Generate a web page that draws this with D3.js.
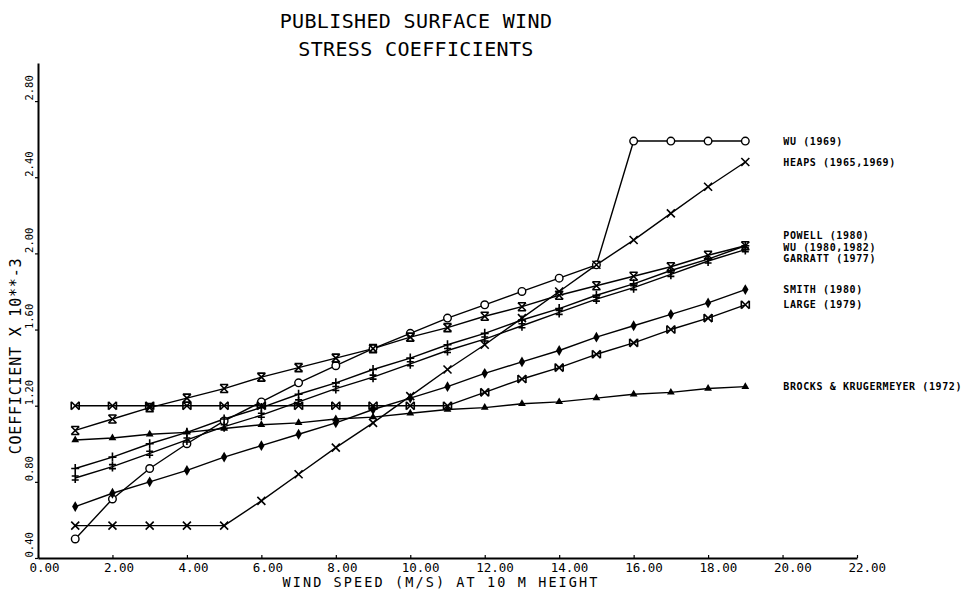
<!DOCTYPE html>
<html>
<head>
<meta charset="utf-8">
<script src="https://cdn.jsdelivr.net/npm/d3@7"></script>
<style>
  body { margin: 0; background: #fff; }
  text { font-family: "DejaVu Sans Mono", "Liberation Mono", monospace; fill: #000; }
</style>
</head>
<body>
<svg id="chart" width="969" height="591"></svg>
<script>
// Wind speed at 10 m height (m/s)
const windSpeed = [1, 2, 3, 4, 5, 6, 7, 8, 9, 10, 11, 12, 13, 14, 15, 16, 17, 18, 19];

// Drag coefficient (x 10^-3) for each published formulation
const wu1969   = [0.50, 0.71, 0.87, 1.00, 1.12, 1.22, 1.32, 1.41, 1.50, 1.58, 1.66, 1.73, 1.80, 1.87, 1.94, 2.59, 2.59, 2.59, 2.59];
const heaps    = [0.57, 0.57, 0.57, 0.57, 0.57, 0.70, 0.84, 0.98, 1.11, 1.25, 1.39, 1.52, 1.66, 1.80, 1.94, 2.07, 2.21, 2.35, 2.48];
const powell   = [1.07, 1.13, 1.19, 1.24, 1.29, 1.35, 1.40, 1.45, 1.50, 1.56, 1.61, 1.67, 1.72, 1.78, 1.83, 1.88, 1.93, 1.99, 2.04];
const wu1980   = [0.87, 0.93, 1.00, 1.06, 1.13, 1.19, 1.26, 1.32, 1.39, 1.45, 1.52, 1.58, 1.65, 1.71, 1.78, 1.84, 1.91, 1.97, 2.04];
const garratt  = [0.82, 0.88, 0.95, 1.02, 1.09, 1.15, 1.22, 1.29, 1.35, 1.42, 1.49, 1.55, 1.62, 1.69, 1.76, 1.82, 1.89, 1.96, 2.02];
const smith    = [0.67, 0.74, 0.80, 0.86, 0.93, 0.99, 1.05, 1.11, 1.18, 1.24, 1.30, 1.37, 1.43, 1.49, 1.56, 1.62, 1.68, 1.74, 1.81];
const large    = [1.20, 1.20, 1.20, 1.20, 1.20, 1.20, 1.20, 1.20, 1.20, 1.20, 1.20, 1.27, 1.34, 1.40, 1.47, 1.53, 1.60, 1.66, 1.73];
const brocks   = [1.02, 1.03, 1.05, 1.06, 1.08, 1.10, 1.11, 1.13, 1.14, 1.16, 1.18, 1.19, 1.21, 1.22, 1.24, 1.26, 1.27, 1.29, 1.30];

const seriesNames   = ["WU (1969)", "HEAPS (1965,1969)", "POWELL (1980)", "WU (1980,1982)", "GARRATT (1977)", "SMITH (1980)", "LARGE (1979)", "BROCKS & KRUGERMEYER (1972)"];
const seriesValues  = [wu1969, heaps, powell, wu1980, garratt, smith, large, brocks];
const seriesMarkers = ["circle", "cross", "hourglass", "plus", "dagger", "diamond", "bowtie", "triangle"];

const xTickValues = [0, 2, 4, 6, 8, 10, 12, 14, 16, 18, 20, 22];
const yTickValues = [0.40, 0.80, 1.20, 1.60, 2.00, 2.40, 2.80];

const titleLines = ["PUBLISHED SURFACE WIND", "STRESS COEFFICIENTS"];
const xTitle = "WIND SPEED (M/S) AT 10 M HEIGHT";
const yTitle = "COEFFICIENT X 10**-3";

const svg = d3.select("#chart");
svg.append("rect").attr("width", 969).attr("height", 591).attr("fill", "#fff");

const x = d3.scaleLinear().domain([0, 22]).range([38, 857]);
const y = d3.scaleLinear().domain([0.4, 3.0]).range([558, 63]);

// Title
svg.selectAll("text.title").data(titleLines).join("text")
  .attr("class", "title")
  .attr("x", 416)
  .attr("y", (d, i) => 28 + i * 28)
  .attr("text-anchor", "middle")
  .attr("font-size", 20)
  .attr("letter-spacing", 0.35)
  .text(d => d);

// X axis
const xAxis = svg.append("g")
  .attr("transform", `translate(0,${y(0.4)})`)
  .call(d3.axisBottom(x).tickValues(xTickValues).tickSize(-3).tickSizeOuter(0).tickFormat(d3.format(".2f")));
xAxis.select(".domain").attr("stroke", "#000").attr("stroke-width", 2);
xAxis.selectAll(".tick line").attr("stroke", "#000").attr("stroke-width", 1.2);
xAxis.selectAll(".tick text")
  .attr("text-anchor", "start")
  .attr("x", -9)
  .attr("y", 14)
  .attr("dy", 0)
  .attr("font-size", 12.5)
  .attr("font-family", "DejaVu Sans Mono");

// Y axis
const yAxis = svg.append("g")
  .attr("transform", `translate(${x(0)},0)`)
  .call(d3.axisLeft(y).tickValues(yTickValues).tickSize(3).tickSizeOuter(0).tickFormat(d3.format(".2f")));
yAxis.select(".domain").attr("stroke", "#000").attr("stroke-width", 2);
yAxis.selectAll(".tick line").attr("stroke", "#000").attr("stroke-width", 1.2);
yAxis.selectAll(".tick text")
  .attr("text-anchor", "start")
  .attr("x", 0)
  .attr("y", 0)
  .attr("dy", "0.35em")
  .attr("transform", "translate(-9,-1) rotate(-90)")
  .attr("font-size", 10.5)
  .attr("font-family", "DejaVu Sans Mono");

// Axis titles
svg.append("text")
  .attr("x", 441)
  .attr("y", 587)
  .attr("text-anchor", "middle")
  .attr("font-size", 13.5)
  .attr("letter-spacing", 2.1)
  .text(xTitle);

svg.append("text")
  .attr("transform", "translate(21,356) rotate(-90)")
  .attr("text-anchor", "middle")
  .attr("font-size", 15)
  .attr("letter-spacing", 0.8)
  .text(yTitle);

// Series lines
const line = d3.line()
  .x((d, i) => x(windSpeed[i]))
  .y(d => y(d));

svg.append("g").selectAll("path").data(seriesValues).join("path")
  .attr("d", line)
  .attr("fill", "none")
  .attr("stroke", "#000")
  .attr("stroke-width", 1.4)
  .attr("stroke-linejoin", "round");

// Marker glyphs
const glyphPaths = {
  cross:     "M-4,-4L4,4M-4,4L4,-4",
  hourglass: "M-4,-4L4,4M-4,4L4,-4M-4,-4H4M-4,4H4",
  bowtie:    "M-4,-4L4,4M-4,4L4,-4M-4,-4V4M4,-4V4",
  plus:      "M-4,0H4M0,-4.5V4.5",
  dagger:    "M-3.5,-2H3.5M-3.5,2H3.5M0,-5V5"
};

function drawMarker(g, type) {
  if (type === "circle") {
    g.append("circle").attr("r", 3.8).attr("fill", "#fff").attr("stroke", "#000").attr("stroke-width", 1.4);
  } else if (type === "diamond") {
    g.append("path").attr("d", d3.symbol(d3.symbolDiamond, 34)()).attr("fill", "#000");
  } else if (type === "triangle") {
    g.append("path").attr("d", d3.symbol(d3.symbolTriangle, 26)()).attr("fill", "#000");
  } else {
    g.append("path").attr("d", glyphPaths[type]).attr("fill", "none").attr("stroke", "#000").attr("stroke-width", 1.6);
  }
}

const markerLayer = svg.append("g");
seriesValues.forEach((vals, si) => {
  vals.forEach((v, i) => {
    const g = markerLayer.append("g").attr("transform", `translate(${x(windSpeed[i])},${y(v)})`);
    drawMarker(g, seriesMarkers[si]);
  });
});

// End labels, spread apart where the line ends crowd together
const labelItems = seriesNames.map((name, i) => ({
  name, order: i, target: y(seriesValues[i][seriesValues[i].length - 1])
}));
labelItems.sort((a, b) => a.target - b.target || a.order - b.order);
labelItems.forEach(d => d.pos = d.target);
const minGap = 11.5;
for (let iter = 0; iter < 50; iter++) {
  for (let i = 1; i < labelItems.length; i++) {
    const a = labelItems[i - 1], b = labelItems[i];
    const overlap = minGap - (b.pos - a.pos);
    if (overlap > 0) { a.pos -= overlap / 2; b.pos += overlap / 2; }
  }
}

svg.append("g").selectAll("text").data(labelItems).join("text")
  .attr("x", x(windSpeed[windSpeed.length - 1]) + 38)
  .attr("y", d => d.pos)
  .attr("dy", "0.35em")
  .attr("font-size", 10)
  .attr("letter-spacing", 0.6)
  .attr("font-weight", "bold")
  .text(d => d.name);
</script>
</body>
</html>
